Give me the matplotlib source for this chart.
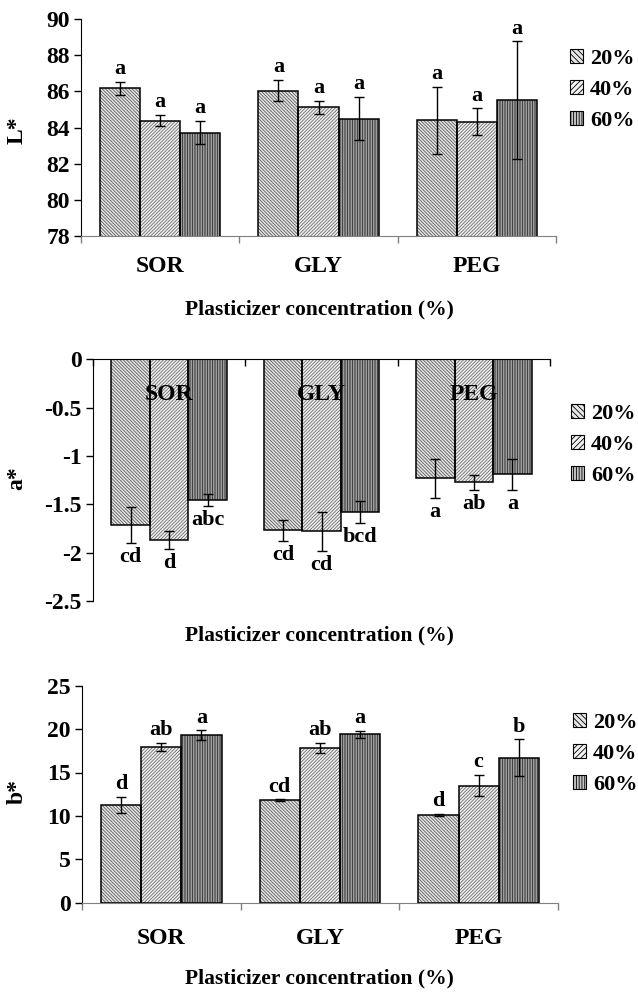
import numpy as np
import matplotlib
matplotlib.use("Agg")
import matplotlib.pyplot as plt
from matplotlib.patches import Patch
from matplotlib.transforms import blended_transform_factory

plt.rcParams['font.family'] = ['Liberation Serif', 'DejaVu Serif']
plt.rcParams['font.weight'] = 'bold'
plt.rcParams['hatch.linewidth'] = 0.6

categories = ['SOR', 'GLY', 'PEG']
series = ['20%', '40%', '60%']

# L*
L_vals = [[86.17, 86.04, 84.41],
          [84.38, 85.11, 84.32],
          [83.71, 84.49, 85.50]]
L_err = [[0.37, 0.59, 1.85],
         [0.32, 0.37, 0.74],
         [0.64, 1.20, 3.26]]
L_let = [['a', 'a', 'a'], ['a', 'a', 'a'], ['a', 'a', 'a']]

# a*
a_vals = [[-1.71, -1.77, -1.23],
          [-1.87, -1.78, -1.27],
          [-1.455, -1.58, -1.19]]
a_err = [[0.186, 0.107, 0.20],
         [0.09, 0.20, 0.078],
         [0.064, 0.11, 0.16]]
a_let = [['cd', 'cd', 'a'], ['d', 'cd', 'ab'], ['abc', 'bcd', 'a']]

# b*
b_vals = [[11.26, 11.83, 10.10],
          [17.97, 17.79, 13.48],
          [19.28, 19.40, 16.71]]
b_err = [[0.90, 0.08, 0.12],
         [0.46, 0.60, 1.21],
         [0.58, 0.42, 2.10]]
b_let = [['d', 'cd', 'd'], ['ab', 'ab', 'c'], ['a', 'a', 'b']]

# fill, hatch, hatch colour per series
styles = [('#e6e6e6', '\\' * 10, '#5a5a5a'),
          ('#f2f2f2', '/' * 10, '#6a6a6a'),
          ('#c4c4c4', '|' * 10, '#2a2a2a')]

fig = plt.figure(figsize=(6.38, 9.92), dpi=100)
W, H = 638.0, 992.0


def make_ax(l, r, top, bot):
    return fig.add_axes([l / W, 1 - bot / H, (r - l) / W, (bot - top) / H])


def draw_bars(ax, vals, errs, lets, up=True):
    x = np.arange(len(categories))
    bw = 0.253
    for i in range(3):
        xi = x + (i - 1) * bw
        fc, h, hc = styles[i]
        ax.bar(xi, vals[i], bw, color=fc, hatch=h, edgecolor=hc, linewidth=0, zorder=2)
        ax.bar(xi, vals[i], bw, fill=False, edgecolor='black', linewidth=1.1, zorder=3)
        ax.errorbar(xi, vals[i], yerr=errs[i], fmt='none', ecolor='black',
                    elinewidth=1.0, capsize=3.5, capthick=1.0, zorder=4)
        for j in range(3):
            if up:
                ax.annotate(lets[i][j], (xi[j], vals[i][j] + errs[i][j]),
                            xytext=(0, 2), textcoords='offset points',
                            ha='center', va='bottom', fontsize=16, fontweight='bold')
            else:
                ax.annotate(lets[i][j], (xi[j], vals[i][j] - errs[i][j]),
                            xytext=(0, -3), textcoords='offset points',
                            ha='center', va='top', fontsize=16, fontweight='bold')
    ax.set_xlim(-0.5, 2.5)
    ax.set_xticks([-0.5, 0.5, 1.5, 2.5])
    ax.set_xticklabels([])
    ax.spines['right'].set_visible(False)
    ax.spines['top'].set_visible(False)
    ax.tick_params(axis='y', length=5, width=1, labelsize=17, pad=3)
    ax.tick_params(axis='x', length=5, width=1, color='#808080')
    ax.spines['bottom'].set_color('#808080')
    for t in ax.get_yticklabels():
        t.set_fontweight('bold')


def add_legend(x0, yc):
    handles = [Patch(facecolor=s[0], hatch=s[1][:6], edgecolor='black', linewidth=0.8)
               for s in styles]
    fig.legend(handles, series, loc='center left', bbox_to_anchor=(x0 / W, 1 - yc / H),
               frameon=False, handlelength=0.6, handleheight=0.6,
               handletextpad=0.3, labelspacing=0.5, borderpad=0, borderaxespad=0,
               prop={'weight': 'bold', 'size': 16})


def cat_labels(ax, ypix):
    tr = blended_transform_factory(ax.transData, fig.transFigure)
    for k, c in enumerate(categories):
        ax.text(k, 1 - ypix / H, c, transform=tr, ha='center', va='center',
                fontsize=17, fontweight='bold')


def xlabel(ypix):
    fig.text(319 / W, 1 - ypix / H, 'Plasticizer concentration (%)', ha='center',
             va='center', fontsize=15.5, fontweight='bold')


def ylabel(ypix, s):
    fig.text(17 / W, 1 - ypix / H, s, ha='center', va='center', rotation=90,
             fontsize=17, fontweight='bold')


# panel 1: L*
ax1 = make_ax(81, 556, 19, 236)
draw_bars(ax1, L_vals, L_err, L_let, up=True)
ax1.set_ylim(78, 90)
ax1.set_yticks(np.arange(78, 91, 2))
cat_labels(ax1, 267)
xlabel(309)
ylabel(130, 'L*')
add_legend(570, 90)

# panel 2: a*
ax2 = make_ax(93, 550, 359.3, 601)
draw_bars(ax2, a_vals, a_err, a_let, up=False)
ax2.set_ylim(-2.5, 0)
ax2.set_yticks([0, -0.5, -1, -1.5, -2, -2.5])
ax2.set_yticklabels(['0', '-0.5', '-1', '-1.5', '-2', '-2.5'])
ax2.spines['bottom'].set_position(('data', 0))
ax2.spines['bottom'].set_color('black')
ax2.tick_params(axis='x', color='black')
for k, c in enumerate(categories):
    ax2.text(k, -0.36, c, ha='center', va='center', fontsize=17,
             fontweight='bold', zorder=6)
xlabel(635)
ylabel(478, 'a*')
add_legend(571, 445)

# panel 3: b*
ax3 = make_ax(82, 558, 685.7, 902.7)
draw_bars(ax3, b_vals, b_err, b_let, up=True)
ax3.set_ylim(0, 25)
ax3.set_yticks(np.arange(0, 26, 5))
cat_labels(ax3, 938)
xlabel(978)
ylabel(792, 'b*')
add_legend(573, 754)

fig.savefig('out.png', dpi=100)
